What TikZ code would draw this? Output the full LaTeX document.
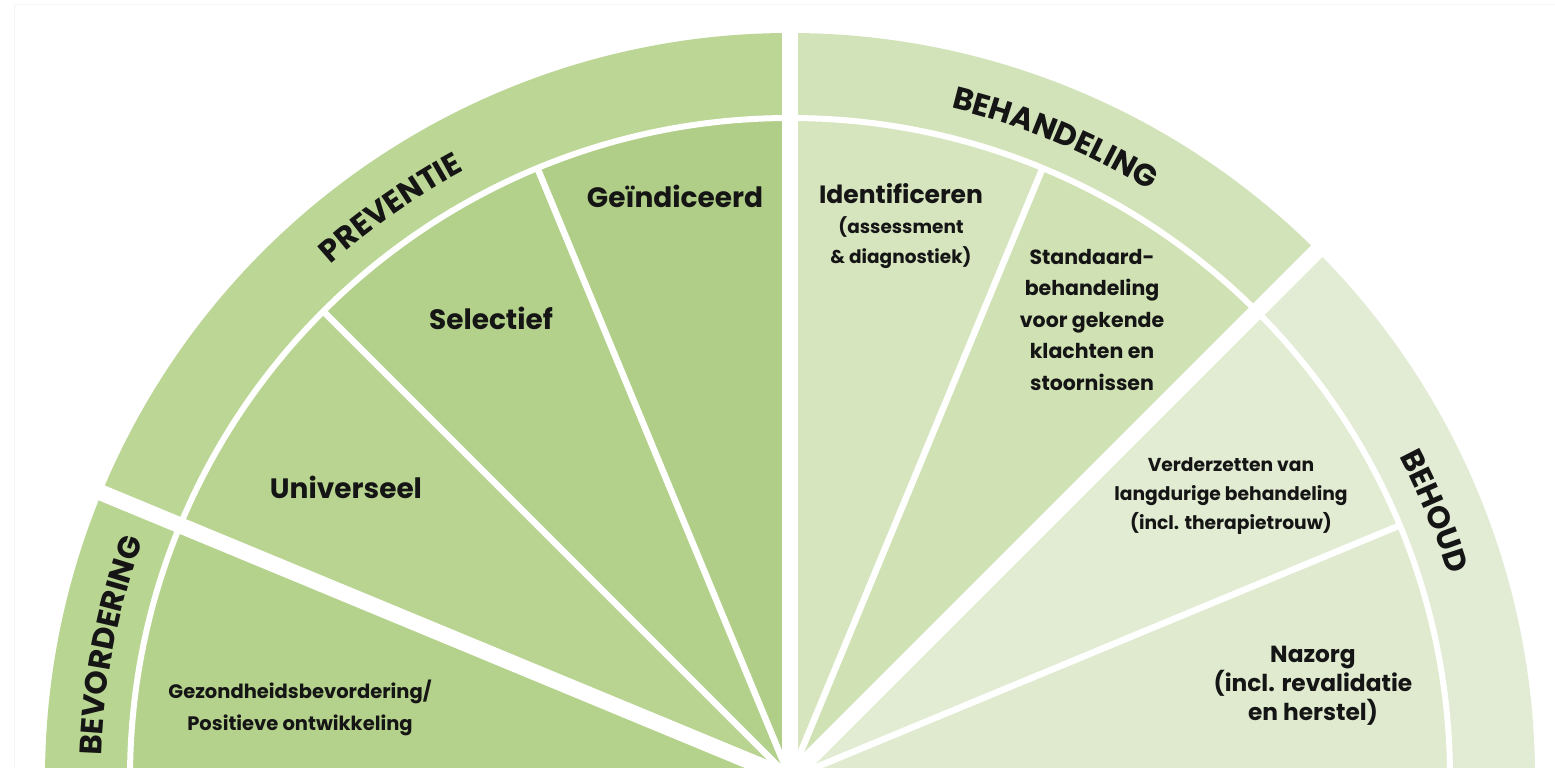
\documentclass[tikz,border=0pt]{standalone}
\usepackage{fontspec}
\usetikzlibrary{decorations.text}
\IfFontExistsTF{Poppins Bold}{\newfontfamily\labfont{Poppins Bold}}{\newfontfamily\labfontx{Poppins}\def\labfont{\labfontx\bfseries}}
\definecolor{cBev}{HTML}{B9D592}
\definecolor{cPrev}{HTML}{BCD695}
\definecolor{cGez}{HTML}{B5D28C}
\definecolor{cUni}{HTML}{B8D490}
\definecolor{cSel}{HTML}{B4D18C}
\definecolor{cGei}{HTML}{B0CE87}
\definecolor{cBeh}{HTML}{D3E3B9}
\definecolor{cIde}{HTML}{D6E5BE}
\definecolor{cSta}{HTML}{D0E2B4}
\definecolor{cBho}{HTML}{E2ECD4}
\definecolor{cVer}{HTML}{E1ECD2}
\definecolor{cNaz}{HTML}{DFEACF}
\definecolor{txt}{HTML}{151515}
\newcommand\mysector[4]{\fill[#1] (0,0) -- (#2:#4) arc[start angle=#2,end angle=#3,radius=#4pt] -- cycle;}
\tikzset{
  lab/.style={text=txt, inner sep=0pt, align=center},
  thickgap/.style={white, line width=16pt},
  thingap/.style={white, line width=6.5pt},
  bandtext/.style={decorate, decoration={text along path, text align=center,
     text={|\labfont\fontsize{31}{36}\selectfont\color{txt}|#1}}}
}
\begin{document}
\begin{tikzpicture}[x=1pt,y=1pt]
\useasboundingbox (0,0) rectangle (1555,768);
\clip (0,0) rectangle (1555,768);
\fill[white] (0,0) rectangle (1555,768);
\draw[black!4, line width=1pt] (14,0) -- (14,763) -- (1555,763);
\coordinate (O) at (790,-10);
\begin{scope}[shift={(O)}]
  % outer bands
  \mysector{cBev}{180}{157.5}{745}
  \mysector{cPrev}{157.5}{90}{745}
  \mysector{cBeh}{90}{45}{745}
  \mysector{cBho}{45}{0}{745}
  % inner sectors
  \mysector{cGez}{180}{157.5}{660}
  \mysector{cUni}{157.5}{135}{660}
  \mysector{cSel}{135}{112.5}{660}
  \mysector{cGei}{112.5}{90}{660}
  \mysector{cIde}{90}{67.5}{660}
  \mysector{cSta}{67.5}{45}{660}
  \mysector{cVer}{45}{22.5}{660}
  \mysector{cNaz}{22.5}{0}{660}
  % ring line
  \draw[white, line width=6pt] (0:660) arc[start angle=0,end angle=180,radius=660pt];
  % thin rays
  \foreach \a in {135,112.5,67.5,22.5} \draw[thingap] (0,0) -- (\a:661);
  % thick gaps
  \foreach \a in {157.5,90,45} \draw[thickgap] (0,0) -- (\a:770);
  % band labels
  \path[bandtext=BEVORDERING] (185:689) arc[start angle=185,end angle=153,radius=689pt];
  \path[bandtext=PREVENTIE] (150:689) arc[start angle=150,end angle=100,radius=689pt];
  \path[bandtext=BEHANDELING] (90:689) arc[start angle=90,end angle=45,radius=689pt];
  \path[bandtext=BEHOUD] (40:689) arc[start angle=40,end angle=5,radius=689pt];
\end{scope}
% sector labels
\node[lab, font=\labfont\fontsize{28}{34}\selectfont] (gei) at (675,572) {Geïndiceerd};
\node[lab, font=\labfont\fontsize{28}{34}\selectfont] (sel) at (491,450) {Selectief};
\node[lab, font=\labfont\fontsize{28}{34}\selectfont] (uni) at (346,281) {Universeel};
\node[lab, font=\labfont\fontsize{19.5}{32}\selectfont] (gez) at (300,60) {Gezondheidsbevordering/\\Positieve ontwikkeling};
\node[lab, font=\labfont\fontsize{18.5}{30}\selectfont] (ide) at (901,542) {{\fontsize{25}{30}\selectfont Identificeren}\\(assessment\\\& diagnostiek)};
\node[lab, font=\labfont\fontsize{20.5}{31.5}\selectfont] (sta) at (1092,448) {Standaard-\\behandeling\\voor gekende\\klachten en\\stoornissen};
\node[lab, font=\labfont\fontsize{18.7}{29}\selectfont] (ver) at (1231,272) {Verderzetten van\\langdurige behandeling\\(incl. therapietrouw)};
\node[lab, font=\labfont\fontsize{23.3}{29}\selectfont] (naz) at (1313,82) {Nazorg\\(incl. revalidatie\\en herstel)};
\end{tikzpicture}
\end{document}
